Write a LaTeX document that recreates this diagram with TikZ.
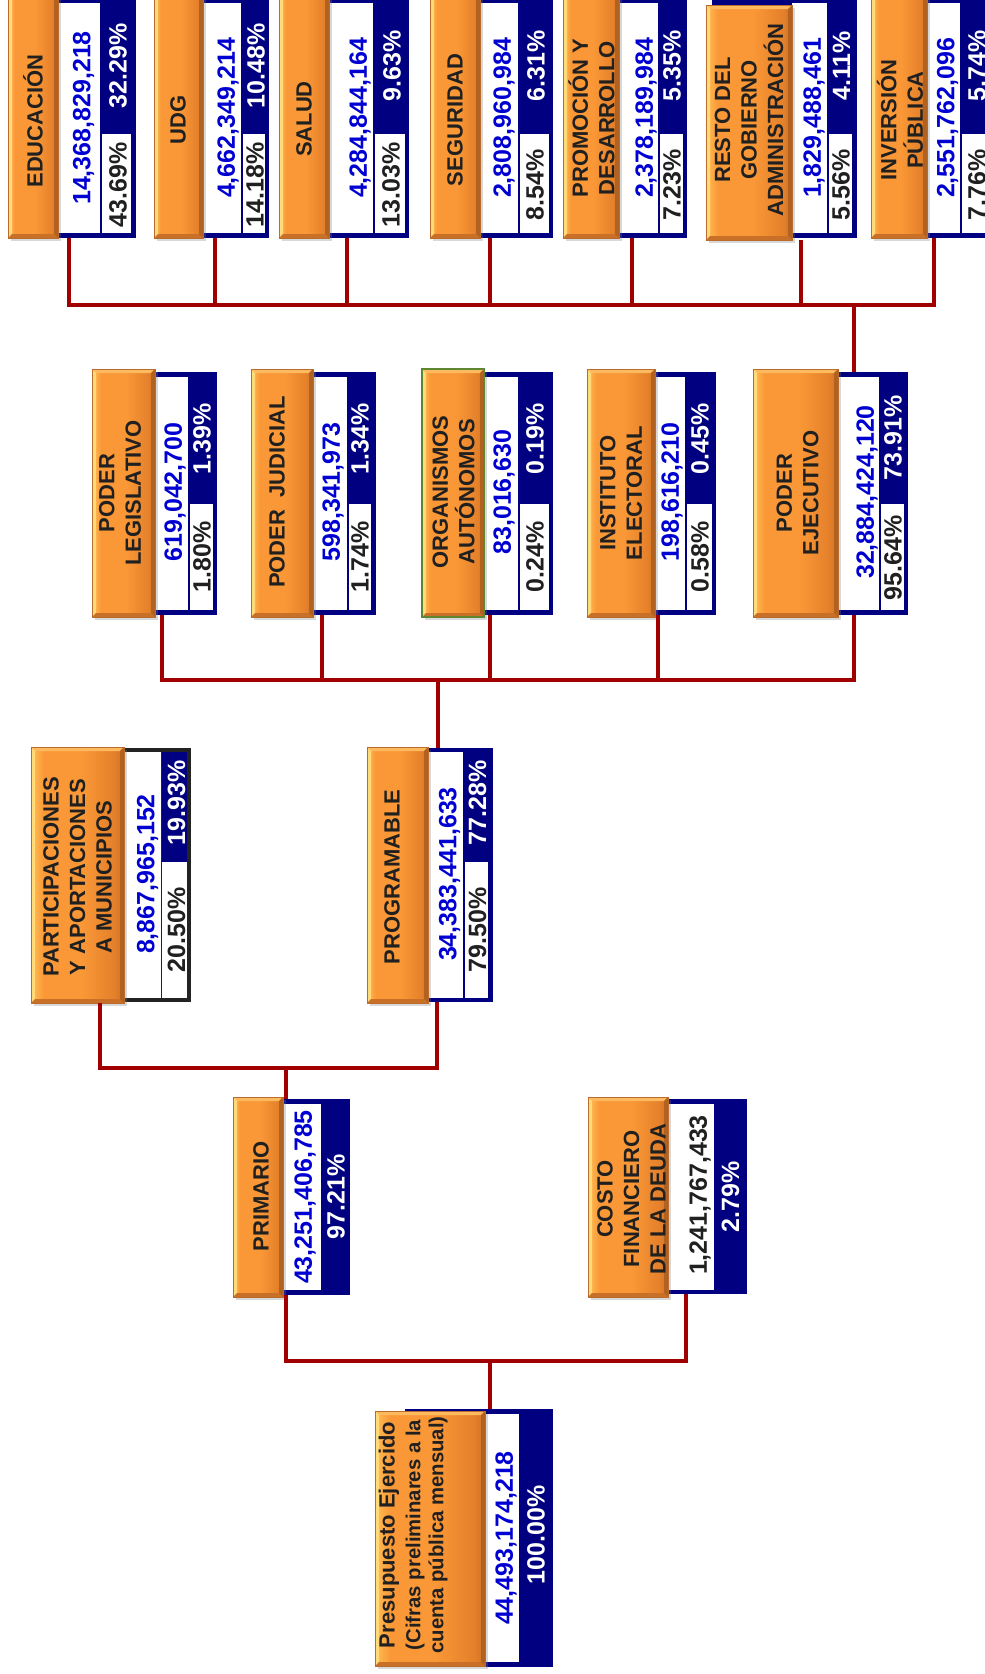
\documentclass[tikz,border=0pt]{standalone}
\usepackage{fontspec}
\setmainfont{Liberation Sans}
\usetikzlibrary{shadows}
\definecolor{navy}{RGB}{0,0,128}
\definecolor{numblue}{RGB}{0,0,210}
\definecolor{connred}{RGB}{160,0,0}
\definecolor{lblc}{RGB}{32,32,32}
\definecolor{obL}{RGB}{255,190,85}
\definecolor{obM}{RGB}{250,152,55}
\definecolor{obD}{RGB}{228,128,42}
\definecolor{obE}{RGB}{205,112,38}
\definecolor{obEdge}{RGB}{185,108,45}
\definecolor{bvTop}{RGB}{255,185,95}
\definecolor{bvLeft}{RGB}{255,218,120}
\definecolor{bvRight}{RGB}{178,98,32}
\definecolor{bvBot}{RGB}{200,112,40}
\definecolor{orggreen}{RGB}{95,135,50}
\definecolor{darkbd}{RGB}{35,35,35}
\pgfdeclarehorizontalshading{obevel}{100bp}{color(0bp)=(obL); color(25bp)=(obL); color(32bp)=(obM); color(52bp)=(obM); color(70bp)=(obD); color(75bp)=(obE); color(100bp)=(obE)}
\newcommand{\rbox}[6]{\node[#2, anchor=north west, inner sep=0pt, outer sep=0pt, minimum width={(#5)*1pt-(#3)*1pt}, minimum height={(#6)*1pt-(#4)*1pt}] (#1) at (#3,#4) {};}
\newcommand{\bevel}[1]{%
  \fill[bvTop] (#1.north west) -- (#1.north east) -- ([xshift=-4pt,yshift=-4pt]#1.north east) -- ([xshift=4pt,yshift=-4pt]#1.north west) -- cycle;
  \fill[bvLeft] (#1.north west) -- ([xshift=4pt,yshift=-4pt]#1.north west) -- ([xshift=4pt,yshift=4pt]#1.south west) -- (#1.south west) -- cycle;
  \fill[bvRight] (#1.north east) -- ([xshift=-4pt,yshift=-4pt]#1.north east) -- ([xshift=-4pt,yshift=4pt]#1.south east) -- (#1.south east) -- cycle;
  \fill[bvBot] (#1.south west) -- ([xshift=4pt,yshift=4pt]#1.south west) -- ([xshift=-4pt,yshift=4pt]#1.south east) -- (#1.south east) -- cycle;
  \draw[obEdge, line width=0.6pt] (#1.north west) rectangle (#1.south east);}
\tikzset{
  panel/.style={fill=navy, draw=none},
  wstrip/.style={fill=white, draw=none},
  obox/.style={shading=obevel, draw=none, drop shadow={opacity=0.3, shadow xshift=3pt, shadow yshift=-3pt}},
  lbl/.style={font=\fontsize{22}{26.5}\selectfont\bfseries, text=lblc, align=center, rotate=90, inner sep=0pt},
  num/.style={font=\fontsize{25}{30}\selectfont\bfseries, text=numblue, rotate=90, inner sep=0pt},
  pctw/.style={font=\fontsize{25}{30}\selectfont\bfseries, text=white, rotate=90, inner sep=0pt},
  pctb/.style={font=\fontsize{25}{30}\selectfont\bfseries, text=lblc, rotate=90, inner sep=0pt},
  conn/.style={draw=connred, line width=3.5pt}
}
\begin{document}
\begin{tikzpicture}[x=1pt,y=-1pt]
\useasboundingbox (0,0) rectangle (985,1674);
\clip (0,0) rectangle (985,1674);
\fill[white] (0,0) rectangle (985,1674);
% ---------- level 1 panels ----------
\rbox{pEdu}{panel}{58}{-5}{136}{238}
\rbox{wEdu}{wstrip}{58}{3}{100}{233}
\rbox{lEdu}{wstrip}{102}{134}{131}{233}
\rbox{pUdg}{panel}{203}{-5}{269}{238}
\rbox{wUdg}{wstrip}{203}{3}{241}{233}
\rbox{lUdg}{wstrip}{243}{134}{265}{233}
\rbox{pSal}{panel}{329}{-5}{409}{238}
\rbox{wSal}{wstrip}{329}{3}{373}{233}
\rbox{lSal}{wstrip}{375}{134}{405}{233}
\rbox{pSeg}{panel}{480}{-5}{553}{238}
\rbox{wSeg}{wstrip}{480}{3}{518}{233}
\rbox{lSeg}{wstrip}{520}{134}{549}{233}
\rbox{pPro}{panel}{619}{-5}{687}{238}
\rbox{wPro}{wstrip}{619}{3}{658}{233}
\rbox{lPro}{wstrip}{660}{134}{683}{233}
\rbox{pRes}{panel}{712}{-5}{857}{238}
\rbox{wRes}{wstrip}{792}{3}{827}{233}
\rbox{lRes}{wstrip}{829}{134}{852}{233}
\rbox{pInv}{panel}{927}{-5}{1000}{238}
\rbox{wInv}{wstrip}{927}{3}{960}{233}
\rbox{lInv}{wstrip}{962}{134}{1000}{233}
% ---------- level 2 panels ----------
\rbox{pLeg}{panel}{155}{372}{217}{615}
\rbox{wLeg}{wstrip}{155}{377}{188}{610}
\rbox{lLeg}{wstrip}{190}{504}{213}{610}
\rbox{pJud}{panel}{313}{372}{376}{615}
\rbox{wJud}{wstrip}{313}{377}{347}{610}
\rbox{lJud}{wstrip}{349}{504}{371}{610}
\rbox{pOrg}{panel}{484}{372}{553}{615}
\rbox{wOrg}{wstrip}{484}{377}{518}{610}
\rbox{lOrg}{wstrip}{520}{504}{549}{610}
\rbox{pIns}{panel}{655}{372}{716}{615}
\rbox{wIns}{wstrip}{655}{377}{685}{610}
\rbox{lIns}{wstrip}{687}{504}{712}{610}
\rbox{pEje}{panel}{838}{372}{908}{615}
\rbox{wEje}{wstrip}{838}{377}{879}{610}
\rbox{lEje}{wstrip}{881}{504}{904}{610}
% ---------- level 3 panels ----------
\rbox{pPar}{fill=darkbd}{124}{748}{191}{1002}
\rbox{wPar}{wstrip}{124}{752}{161}{998}
\rbox{nPar}{panel}{162}{752}{187}{862}
\rbox{lPar}{wstrip}{162}{862}{187}{998}
\rbox{pPrg}{panel}{372}{748}{493}{1002}
\rbox{wPrg}{wstrip}{428}{752}{463}{998}
\rbox{lPrg}{wstrip}{465}{862}{488}{998}
% ---------- level 4 panels ----------
\rbox{pPri}{panel}{283}{1099}{350}{1295}
\rbox{wPri}{wstrip}{283}{1104}{321}{1290}
\rbox{pCos}{panel}{668}{1099}{747}{1294}
\rbox{wCos}{wstrip}{668}{1104}{714}{1290}
% ---------- root panel ----------
\rbox{pRoot}{panel}{405}{1409}{553}{1667}
\rbox{wRoot}{wstrip}{485}{1414}{519}{1662}
% ---------- orange boxes ----------
\rbox{oEdu}{obox}{8}{-5}{58}{238}
\rbox{oUdg}{obox}{154}{-5}{203}{238}
\rbox{oSal}{obox}{279}{-5}{329}{238}
\rbox{oSeg}{obox}{430}{-5}{480}{238}
\rbox{oPro}{obox}{563}{-5}{619}{238}
\rbox{oRes}{obox}{706}{5}{792}{240}
\rbox{oInv}{obox}{871}{-5}{927}{238}
\rbox{oLeg}{obox}{92}{369}{155}{617}
\rbox{oJud}{obox}{251}{369}{313}{617}
\rbox{oOrg}{obox}{422}{369}{484}{617}
\rbox{oIns}{obox}{587}{369}{655}{617}
\rbox{oEje}{obox}{753}{369}{838}{617}
\rbox{oPar}{obox}{31}{747}{124}{1003}
\rbox{oPrg}{obox}{367}{747}{428}{1003}
\rbox{oPri}{obox}{233}{1097}{283}{1297}
\rbox{oCos}{obox}{588}{1097}{668}{1297}
\rbox{oRoot}{obox}{375}{1411}{485}{1666}
\bevel{oEdu}\bevel{oUdg}\bevel{oSal}\bevel{oSeg}\bevel{oPro}\bevel{oRes}\bevel{oInv}
\bevel{oLeg}\bevel{oJud}\bevel{oOrg}\bevel{oIns}\bevel{oEje}
\bevel{oPar}\bevel{oPrg}\bevel{oPri}\bevel{oCos}\bevel{oRoot}
\draw[orggreen, line width=2.5pt] (oOrg.north west) rectangle (oOrg.south east);
% ---------- level 1 texts ----------
\node[lbl] (tEdu) at (33,121) {EDUCACIÓN};
\node[num] (nEdu) at (83.5,118) {14,368,829,218};
\node[pctw] (uEdu) at (118,66) {32.29\%};
\node[pctb] (dEdu) at (118,185) {43.69\%};
\node[lbl] (tUdg) at (178,120) {UDG};
\node[num] (nUdg) at (228,118) {4,662,349,214};
\node[pctw] (uUdg) at (256,66) {10.48\%};
\node[pctb] (dUdg) at (255,185) {14.18\%};
\node[lbl] (tSal) at (304,119) {SALUD};
\node[num] (nSal) at (360,118) {4,284,844,164};
\node[pctw] (uSal) at (392,66) {9.63\%};
\node[pctb] (dSal) at (391,185) {13.03\%};
\node[lbl] (tSeg) at (455,120) {SEGURIDAD};
\node[num] (nSeg) at (504,118) {2,808,960,984};
\node[pctw] (uSeg) at (536,66) {6.31\%};
\node[pctb] (dSeg) at (535,185) {8.54\%};
\node[lbl] (tPro) at (591.5,118) {PROMOCIÓN Y\\DESARROLLO};
\node[num] (nPro) at (646,118) {2,378,189,984};
\node[pctw] (uPro) at (672,66) {5.35\%};
\node[pctb] (dPro) at (672,185) {7.23\%};
\node[lbl] (tRes) at (749,120) {RESTO DEL\\GOBIERNO\\ADMINISTRACIÓN};
\node[num] (nRes) at (814,118) {1,829,488,461};
\node[pctw] (uRes) at (841.5,66) {4.11\%};
\node[pctb] (dRes) at (841,185) {5.56\%};
\node[lbl] (tInv) at (900,120) {INVERSIÓN\\PÚBLICA};
\node[num] (nInv) at (947.5,118) {2,551,762,096};
\node[pctw] (uInv) at (977,66) {5.74\%};
\node[pctb] (dInv) at (977,185) {7.76\%};
% ---------- level 2 texts ----------
\node[lbl] (tLeg) at (120,493) {PODER\\LEGISLATIVO};
\node[num] (nLeg) at (175,492) {619,042,700};
\node[pctw] (uLeg) at (202,439) {1.39\%};
\node[pctb] (dLeg) at (202,557) {1.80\%};
\node[lbl] (tJud) at (277,492) {PODER\ \ JUDICIAL};
\node[num] (nJud) at (333,492) {598,341,973};
\node[pctw] (uJud) at (360,439) {1.34\%};
\node[pctb] (dJud) at (360,557) {1.74\%};
\node[lbl] (tOrg) at (453.5,492) {ORGANISMOS\\AUTÓNOMOS};
\node[num] (nOrg) at (504,492) {83,016,630};
\node[pctw] (uOrg) at (535,439) {0.19\%};
\node[pctb] (dOrg) at (535,557) {0.24\%};
\node[lbl] (tIns) at (621,493) {INSTITUTO\\ELECTORAL};
\node[num] (nIns) at (672,492) {198,616,210};
\node[pctw] (uIns) at (700,439) {0.45\%};
\node[pctb] (dIns) at (700,557) {0.58\%};
\node[lbl] (tEje) at (797.5,493) {PODER\\EJECUTIVO};
\node[num] (nEje) at (867,492) {32,884,424,120};
\node[pctw] (uEje) at (893,438) {73.91\%};
\node[pctb] (dEje) at (893,558) {95.64\%};
% ---------- level 3 texts ----------
\node[lbl] (tPar) at (77.5,877) {PARTICIPACIONES\\Y APORTACIONES\\A MUNICIPIOS};
\node[num] (nPar) at (147.5,874) {8,867,965,152};
\node[pctw] (uPar) at (176.5,803) {19.93\%};
\node[pctb] (dPar) at (176.5,930) {20.50\%};
\node[lbl] (tPrg) at (392,877) {PROGRAMABLE};
\node[num] (nPrg) at (449.5,874) {34,383,441,633};
\node[pctw] (uPrg) at (477.5,803) {77.28\%};
\node[pctb] (dPrg) at (477.5,930) {79.50\%};
% ---------- level 4 texts ----------
\node[lbl] (tPri) at (261,1196) {PRIMARIO};
\node[num] (nPri) at (305,1197) {43,251,406,785};
\node[pctw] (uPri) at (336,1197) {97.21\%};
\node[lbl] (tCos) at (631.5,1199) {COSTO\\FINANCIERO\\DE LA DEUDA};
\node[num, text=lblc] (nCos) at (700,1195) {1,241,767,433};
\node[pctw] (uCos) at (730.5,1197) {2.79\%};
% ---------- root texts ----------
\node[lbl] (tRoot1) at (389,1535) {Presupuesto Ejercido};
\node[lbl, font=\fontsize{20.3}{24}\selectfont\bfseries] (tRoot2) at (415,1535) {(Cifras preliminares a la};
\node[lbl, font=\fontsize{20.3}{24}\selectfont\bfseries] (tRoot3) at (438,1535) {cuenta pública mensual)};
\node[num] (nRoot) at (506,1538) {44,493,174,218};
\node[pctw] (uRoot) at (536,1535) {100.00\%};
% ---------- connectors ----------
\coordinate (busA) at (854,305);
\coordinate (busB) at (438,680);
\coordinate (busC) at (286,1068);
\coordinate (busD) at (490,1361);
\draw[conn] ([xshift=11pt]pEdu.south west) |- (busA);
\draw[conn] ([xshift=12pt]pUdg.south west) |- (busA);
\draw[conn] ([xshift=18pt]pSal.south west) |- (busA);
\draw[conn] ([xshift=10pt]pSeg.south west) |- (busA);
\draw[conn] ([xshift=13pt]pPro.south west) |- (busA);
\draw[conn] ([xshift=9pt]oRes.south east) |- (busA);
\draw[conn] ([xshift=7pt]pInv.south west) |- (busA);
\draw[conn] (busA) -- (busA |- pEje.north);
\draw[conn] ([xshift=7pt]pLeg.south west) |- (busB);
\draw[conn] ([xshift=9pt]pJud.south west) |- (busB);
\draw[conn] ([xshift=6pt]pOrg.south west) |- (busB);
\draw[conn] ([xshift=3pt]pIns.south west) |- (busB);
\draw[conn] ([xshift=16pt]pEje.south west) |- (busB);
\draw[conn] (busB) -- (busB |- pPrg.north);
\draw[conn] ([xshift=69pt]oPar.south west) |- (busC);
\draw[conn] ([xshift=65pt]pPrg.south west) |- (busC);
\draw[conn] (busC) -- (busC |- pPri.north);
\draw[conn] ([xshift=3pt]pPri.south west) |- (busD);
\draw[conn] ([xshift=18pt]pCos.south west) |- (busD);
\draw[conn] (busD) -- (busD |- pRoot.north);
\end{tikzpicture}
\end{document}
